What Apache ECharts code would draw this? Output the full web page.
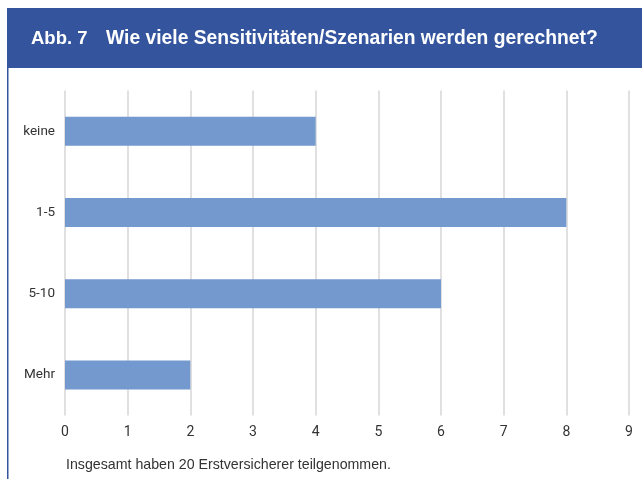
<!DOCTYPE html>
<html><head><meta charset="utf-8">
<script src="https://cdn.jsdelivr.net/npm/echarts@6/dist/echarts.min.js"></script>
<style>
html,body{margin:0;padding:0;background:#fff;}
#c{width:642px;height:479px;}
</style></head>
<body><div id="c"></div>
<script>
const titleLabel = 'Abb. 7';
const titleText = 'Wie viele Sensitivitäten/Szenarien werden gerechnet?';
const footnote = 'Insgesamt haben 20 Erstversicherer teilgenommen.';
const categories = ['keine', '1-5', '5-10', 'Mehr'];
const values = [4, 8, 6, 2];
const xTicks = [0, 1, 2, 3, 4, 5, 6, 7, 8, 9];

const chart = echarts.init(document.getElementById('c'), null, {renderer: 'canvas'});
chart.setOption({
  animation: false,
  graphic: [
    {type: 'rect', shape: {x: 7, y: 8, width: 635, height: 60}, style: {fill: '#34559d'}, z: 0},
    {type: 'rect', shape: {x: 7, y: 68, width: 1.5, height: 411}, style: {fill: '#34559d'}, z: 0},
    {type: 'text', left: 31, top: 29, style: {text: titleLabel, fill: '#ffffff', font: 'bold 18.5px "Liberation Sans", Arial, sans-serif'}, z: 10},
    {type: 'text', left: 106, top: 29, style: {text: titleText, fill: '#ffffff', font: 'bold 19.3px "Liberation Sans", Arial, sans-serif'}, z: 10},
    {type: 'text', left: 66, top: 458, style: {text: footnote, fill: '#333333', font: '14.2px "Liberation Sans", Arial, sans-serif'}, z: 10}
  ],
  grid: {left: 65, right: 13, top: 90.5, bottom: 63.5, containLabel: false},
  xAxis: {
    type: 'value', min: 0, max: 9, interval: 1,
    axisLine: {show: false}, axisTick: {show: false},
    splitLine: {show: true, lineStyle: {color: '#e0e0e0', width: 2}},
    axisLabel: {color: '#333', fontSize: 14, margin: 10, fontFamily: 'Roboto, "Liberation Sans", sans-serif',
      formatter: v => xTicks.includes(v) ? String(v) : ''}
  },
  yAxis: {
    type: 'category', data: categories, inverse: true,
    axisLine: {show: false}, axisTick: {show: false},
    axisLabel: {color: '#333', fontSize: 13.5, margin: 10, fontFamily: 'Roboto, "Liberation Sans", sans-serif'}
  },
  series: [{
    type: 'bar', data: values, barWidth: 29,
    itemStyle: {color: '#7399cf'}
  }]
});
</script></body></html>
